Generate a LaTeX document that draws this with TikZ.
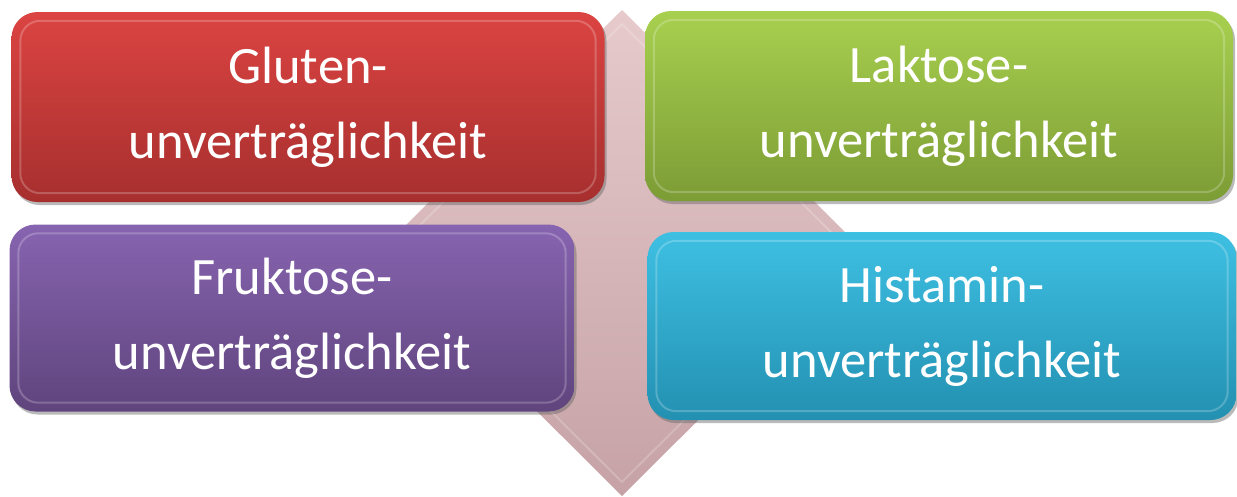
\documentclass[tikz,border=0pt]{standalone}
\usepackage{fontspec}
\setmainfont{Carlito}
\usetikzlibrary{shadows,calc}
\definecolor{redT}{HTML}{DB4442}
\definecolor{redB}{HTML}{A62F2E}
\definecolor{grnT}{HTML}{A8D04F}
\definecolor{grnB}{HTML}{7C9C35}
\definecolor{purT}{HTML}{8764B0}
\definecolor{purB}{HTML}{5F447D}
\definecolor{cyaT}{HTML}{3EC0E3}
\definecolor{cyaB}{HTML}{2390B1}
\definecolor{dimT}{HTML}{E6CACC}
\definecolor{dimB}{HTML}{C6A2A6}
\tikzset{
  box/.style={rounded corners=26pt, minimum width=#1, minimum height=190pt, inner sep=0pt,
    align=center, text=white, font=\fontsize{52.5}{75}\selectfont,
    drop shadow={shadow xshift=2pt, shadow yshift=-3pt, opacity=0.45, fill=black!60}},
  hilite/.style={draw=white, opacity=0.22, line width=2pt, rounded corners=20pt}
}
\begin{document}
\begin{tikzpicture}[x=1pt,y=-1pt]
\useasboundingbox (0,0) rectangle (1237,496);
% background diamond
\shade[top color=dimT, bottom color=dimB] (622,10) -- (866,253) -- (622,496) -- (378,253) -- cycle;
\draw[white, opacity=0.2, line width=2pt] (622,24) -- (852,253) -- (622,482) -- (392,253) -- cycle;
% boxes
\node[box=593pt, top color=redT, bottom color=redB] (glu) at (308,107) {Gluten-\\unverträglichkeit};
\node[box=588pt, top color=grnT, bottom color=grnB] (lak) at (939,106) {Laktose-\\unverträglichkeit};
\node[box=565pt, minimum height=187pt, top color=purT, bottom color=purB] (fru) at (292,318) {Fruktose-\\unverträglichkeit};
\node[box=589pt, minimum height=188pt, top color=cyaT, bottom color=cyaB] (his) at (942,326) {Histamin-\\unverträglichkeit};
\foreach \n in {glu,lak,fru,his}{
  \draw[hilite] ($(\n.north west)+(9,9)$) rectangle ($(\n.south east)+(-9,-9)$);
}
\end{tikzpicture}
\end{document}
